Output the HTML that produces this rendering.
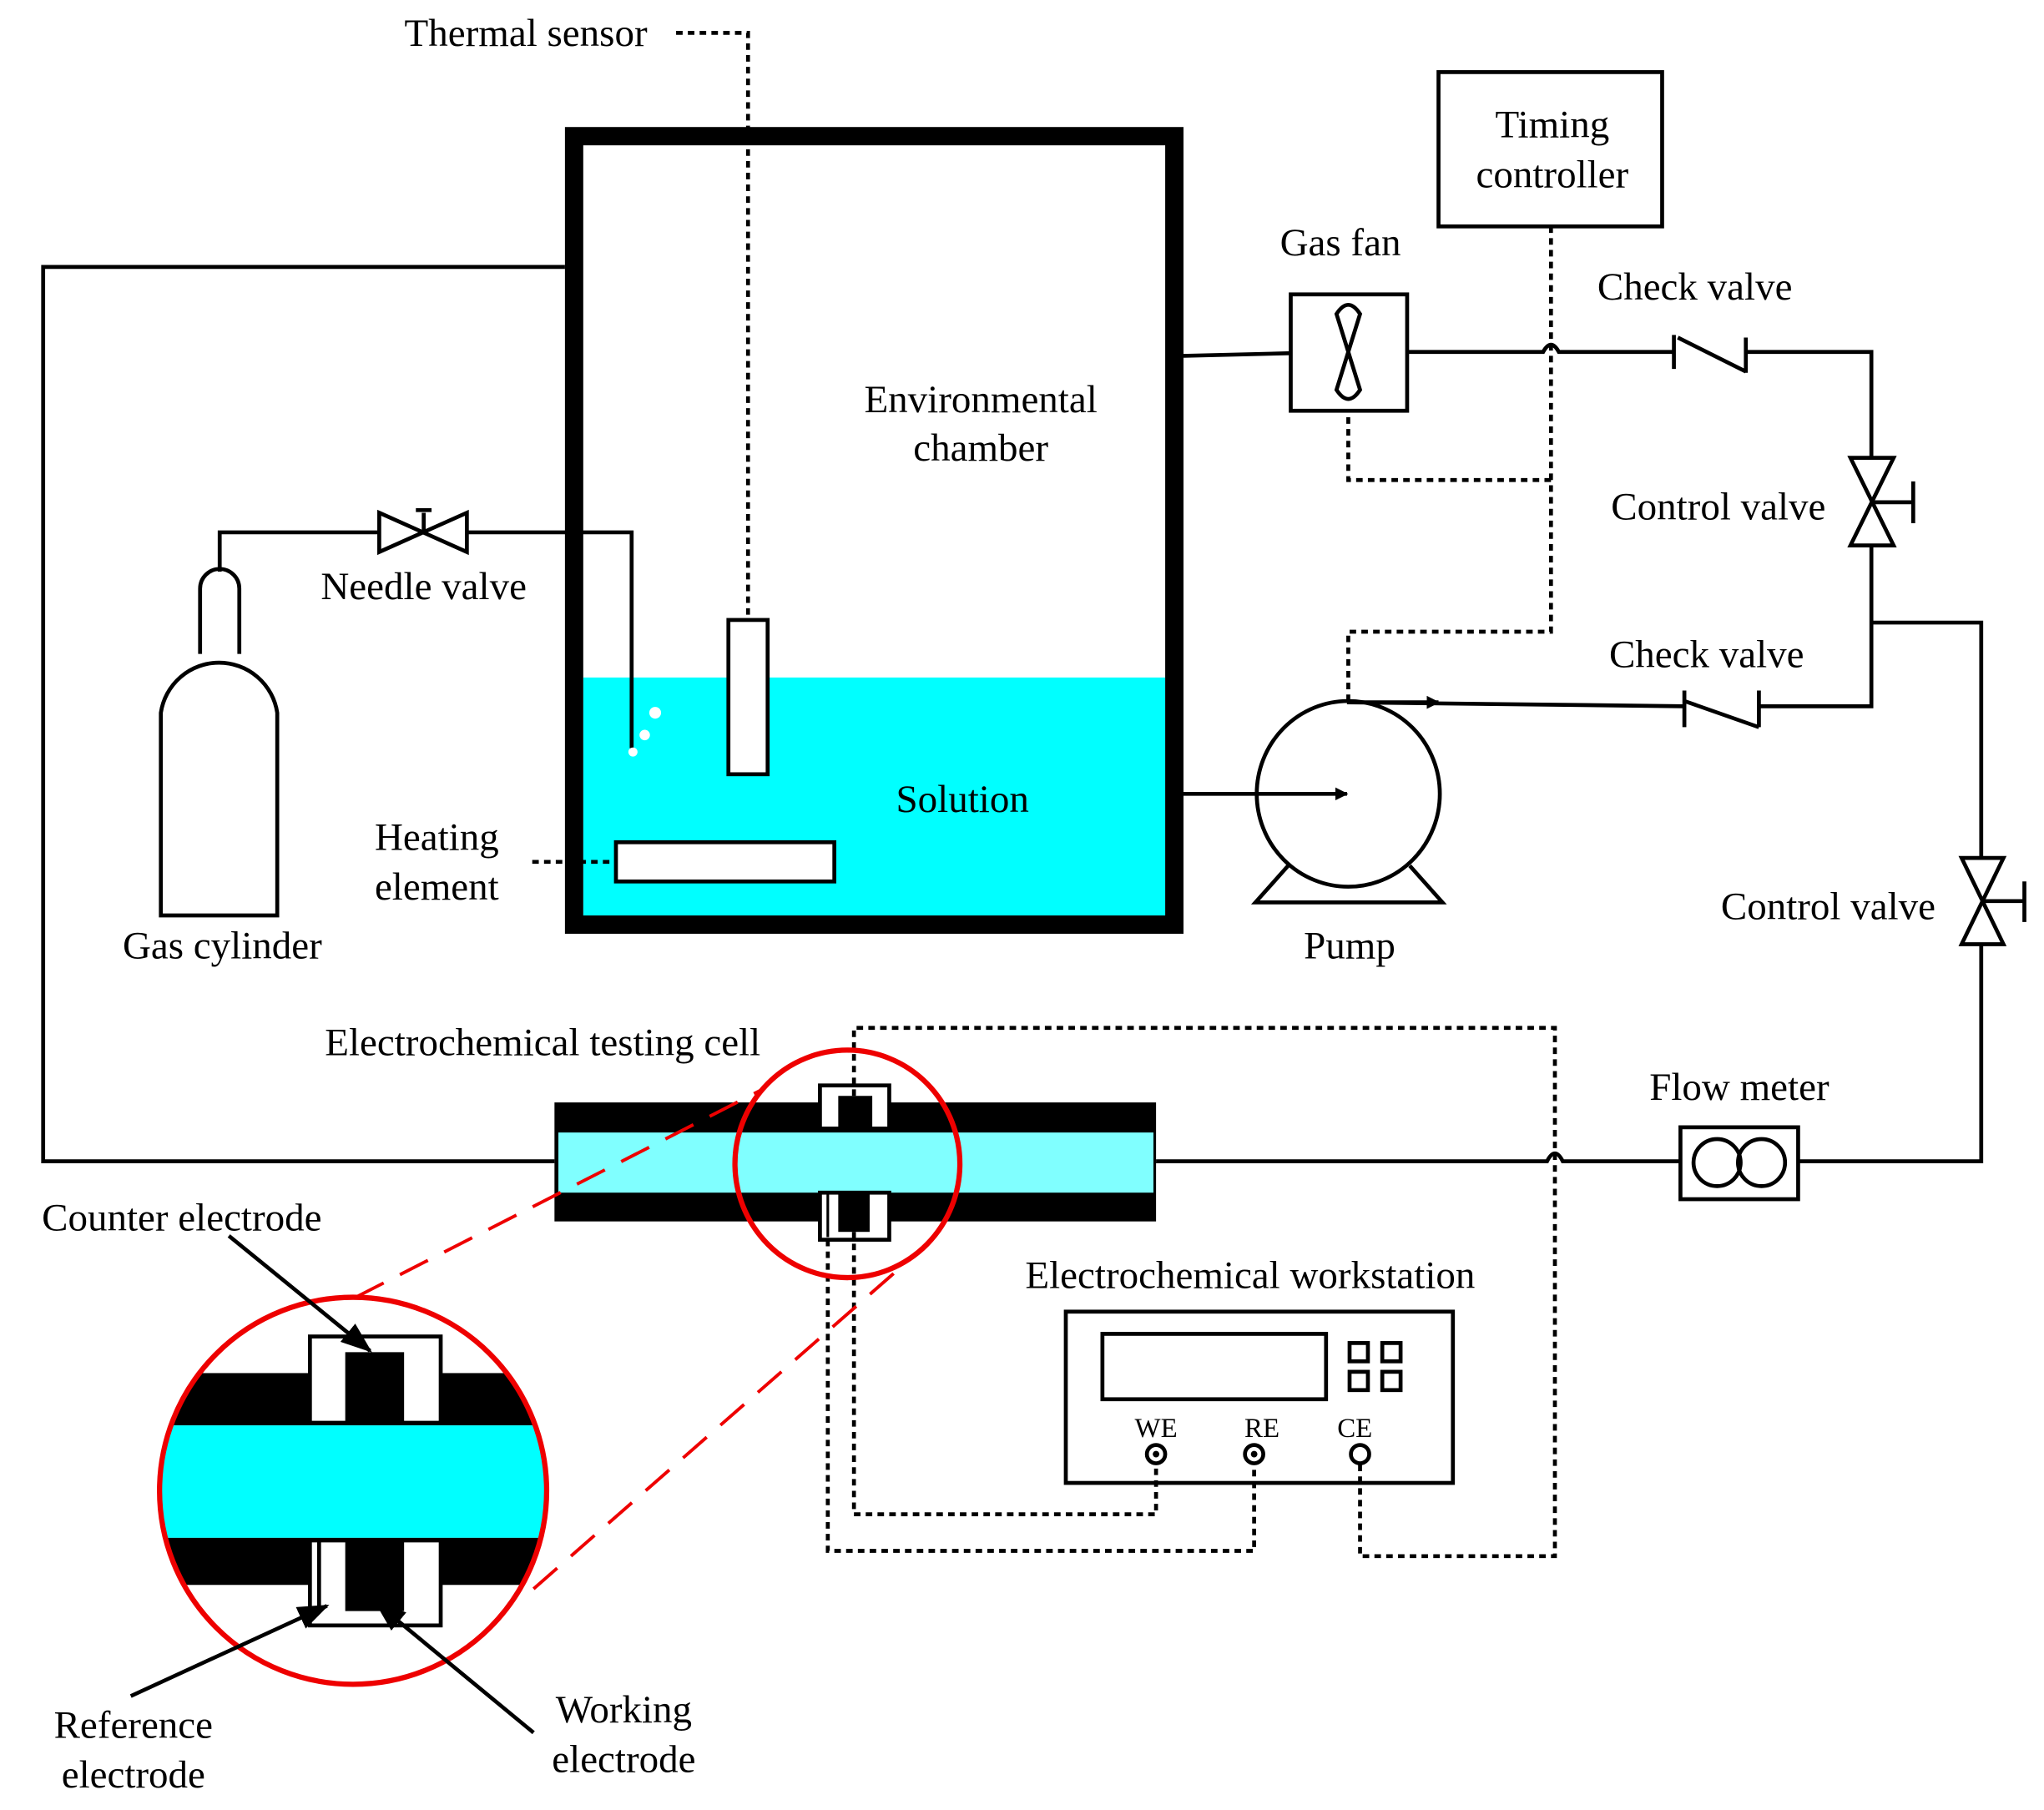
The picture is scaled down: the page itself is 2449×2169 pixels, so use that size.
<!DOCTYPE html>
<html><head><meta charset="utf-8"><style>html,body{margin:0;padding:0;background:#fff}svg{display:block}text{font-family:"Liberation Serif",serif;font-size:30px;fill:#000}</style></head><body>
<svg width="2449" height="2169" viewBox="0 0 1563 1384" xmlns="http://www.w3.org/2000/svg">
<defs><clipPath id="cc"><ellipse cx="270" cy="1140" rx="148" ry="148"/></clipPath>
<marker id="ah" markerWidth="10" markerHeight="10" refX="9" refY="5" orient="auto" markerUnits="userSpaceOnUse"><path d="M0,0 L10,5 L0,10z" fill="#000"/></marker>
<marker id="ab" markerWidth="24" markerHeight="18" refX="22" refY="9" orient="auto" markerUnits="userSpaceOnUse"><path d="M0,0 L24,9 L0,18z" fill="#000"/></marker></defs>
<g fill="none" stroke="#000" stroke-width="3">
<rect x="446" y="518" width="445" height="182" fill="#00ffff" stroke="none"/>
<rect x="439" y="104" width="459" height="603" stroke-width="14"/>
<rect x="557" y="474" width="30" height="118" fill="#fff"/>
<rect x="471" y="644" width="167" height="30" fill="#fff"/>
<path d="M517,25 H572 V474" stroke-dasharray="5 4"/>
<path d="M407,659 H471" stroke-dasharray="5 4"/>
<path d="M432,204 H33 V888 H424"/>
<path d="M123,700 V545 A45,45 0 0 1 212,545 V700 Z"/>
<path d="M153,500 V450 A15,15 0 0 1 183,450 V500"/>
<path d="M168,437 V407 H290"/>
<path d="M290,392 L357,422 V392 L290,422 Z"/>
<path d="M324,392 V407 M318,390 H330"/>
<path d="M357,407 H483 V572"/>
<path d="M905,272 L987,270"/>
<rect x="987" y="225" width="89" height="89"/>
<path d="M1031,269 L1022,240 Q1031,226 1040,240 Z M1031,269 L1022,298 Q1031,312 1040,298 Z"/>
<path d="M1076,269 H1180 Q1186,258 1192,269 H1280 M1280,256 V282 M1283,258 L1335,284 M1335,258 V285 M1335,269 H1431 V350"/>
<path d="M1415,350 H1448 L1415,417 H1448 Z M1431,384 H1463 M1463,368 V400"/>
<path d="M1431,417 V540 H1345 M1345,528 V556 M1345,556 L1288,536 M1288,528 V556 M1288,540 L1030,537"/>
<path d="M1431,476 H1515 V656"/>
<path d="M1500,656 H1532 L1500,722 H1532 Z M1516,689 H1548 M1548,674 V705"/>
<path d="M1515,722 V888 H1375"/>
<rect x="1285" y="862" width="90" height="55"/>
<circle cx="1313" cy="889" r="18"/><circle cx="1347" cy="889" r="18"/>
<path d="M1285,888 H1195 Q1189,876 1183,888 H884"/>
<ellipse cx="1031" cy="607" rx="70" ry="71"/>
<path d="M985,662 L960,690 H1103 L1078,662"/>
<path d="M905,607 H1030" marker-end="url(#ah)"/>
<path d="M1031,537 H1100" marker-end="url(#ah)"/>
<rect x="1100" y="55" width="171" height="118"/>
<path d="M1186,173 V483 H1031 V537 M1186,367 H1031 V314" stroke-dasharray="5 4"/>
<rect x="424" y="843" width="460" height="91" fill="#000" stroke="none"/>
<rect x="427" y="866" width="455" height="46" fill="#80ffff" stroke="none"/>
<rect x="627" y="830" width="53" height="33" fill="#fff"/>
<rect x="641" y="838" width="26" height="25" fill="#000" stroke="none"/>
<rect x="627" y="912" width="53" height="36" fill="#fff"/>
<rect x="641" y="912" width="24" height="30" fill="#000" stroke="none"/>
<path d="M633,912 V946" stroke-width="2"/>
<rect x="815" y="1003" width="296" height="131"/>
<rect x="843" y="1020" width="171" height="50"/>
<rect x="1032" y="1027" width="14" height="14"/><rect x="1057" y="1027" width="14" height="14"/>
<rect x="1032" y="1049" width="14" height="14"/><rect x="1057" y="1049" width="14" height="14"/>
<circle cx="884" cy="1112" r="7"/><circle cx="959" cy="1112" r="7"/><circle cx="1040" cy="1112" r="7"/>
<path d="M653,838 V786 H1189 V1190 H1040 V1120 M653,942 V1158 H884 V1120 M633,948 V1186 H959 V1120" stroke-dasharray="5 4"/>
<g clip-path="url(#cc)" stroke="none">
<rect x="100" y="1050" width="340" height="40" fill="#000"/>
<rect x="100" y="1090" width="340" height="86" fill="#00ffff"/>
<rect x="100" y="1176" width="340" height="36" fill="#000"/>
</g>
<rect x="237" y="1022" width="100" height="66" fill="#fff"/>
<rect x="264" y="1034" width="45" height="54" fill="#000" stroke="none"/>
<rect x="237" y="1178" width="100" height="65" fill="#fff"/>
<rect x="264" y="1178" width="45" height="54" fill="#000" stroke="none"/>
<path d="M244,1178 V1232" stroke-width="3"/>
<g stroke="#e00" stroke-width="4">
<ellipse cx="270" cy="1140" rx="148" ry="148"/>
<ellipse cx="648" cy="890" rx="86" ry="87"/>
<path d="M272,992 L585,832 M408,1215 L690,968" stroke-width="2.5" stroke-dasharray="24 14"/>
</g>
<path d="M175,945 L283,1033" marker-end="url(#ab)"/>
<path d="M100,1297 L250,1228" marker-end="url(#ab)"/>
<path d="M408,1325 L288,1226" marker-end="url(#ab)"/>
</g>
<circle cx="884" cy="1112" r="2.5" fill="#000"/><circle cx="959" cy="1112" r="2.5" fill="#000"/>
<circle cx="484" cy="575" r="3.5" fill="#fff"/><circle cx="493" cy="562" r="4" fill="#fff"/><circle cx="501" cy="545" r="4.5" fill="#fff"/>
<text x="495" y="35" text-anchor="end">Thermal sensor</text>
<text x="750" y="315" text-anchor="middle">Environmental</text>
<text x="750" y="352" text-anchor="middle">chamber</text>
<text x="736" y="621" text-anchor="middle">Solution</text>
<text x="334" y="650" text-anchor="middle">Heating</text>
<text x="334" y="688" text-anchor="middle">element</text>
<text x="170" y="733" text-anchor="middle">Gas cylinder</text>
<text x="324" y="458" text-anchor="middle">Needle valve</text>
<text x="1187" y="105" text-anchor="middle">Timing</text>
<text x="1187" y="143" text-anchor="middle">controller</text>
<text x="1025" y="195" text-anchor="middle">Gas fan</text>
<text x="1296" y="229" text-anchor="middle">Check valve</text>
<text x="1314" y="397" text-anchor="middle">Control valve</text>
<text x="1305" y="510" text-anchor="middle">Check valve</text>
<text x="1398" y="703" text-anchor="middle">Control valve</text>
<text x="1032" y="733" text-anchor="middle">Pump</text>
<text x="1330" y="841" text-anchor="middle">Flow meter</text>
<text x="415" y="807" text-anchor="middle">Electrochemical testing cell</text>
<text x="956" y="985" text-anchor="middle">Electrochemical workstation</text>
<text x="32" y="941">Counter electrode</text>
<text x="102" y="1329" text-anchor="middle">Reference</text>
<text x="102" y="1367" text-anchor="middle">electrode</text>
<text x="477" y="1317" text-anchor="middle">Working</text>
<text x="477" y="1355" text-anchor="middle">electrode</text>
<text x="884" y="1099" text-anchor="middle" style="font-size:21px">WE</text>
<text x="965" y="1099" text-anchor="middle" style="font-size:21px">RE</text>
<text x="1036" y="1099" text-anchor="middle" style="font-size:21px">CE</text>
</svg>
</body></html>
